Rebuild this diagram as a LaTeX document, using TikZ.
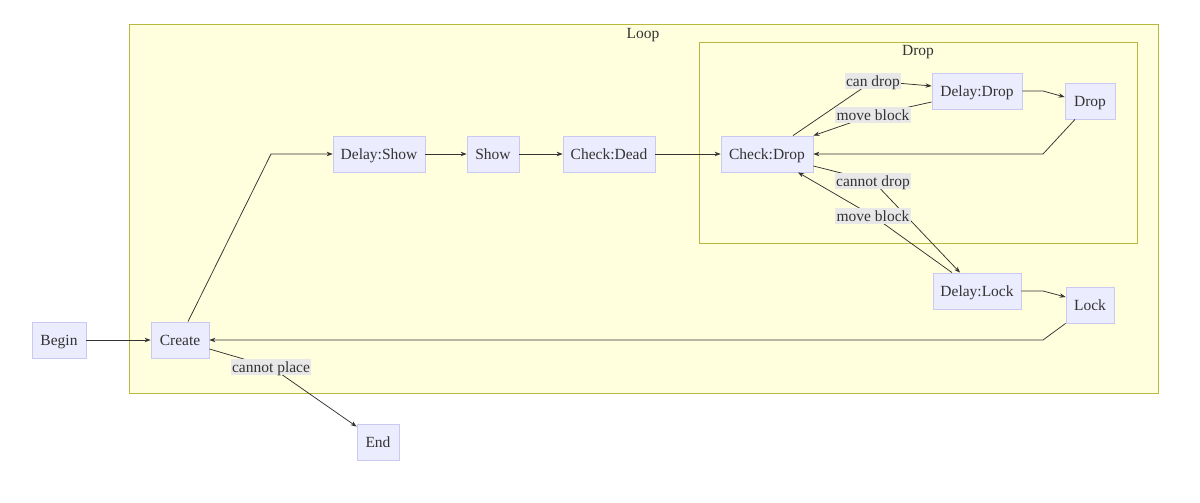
\documentclass[tikz,border=0pt]{standalone}
\usepackage{fontspec}
\setmainfont{Liberation Serif}
\usetikzlibrary{arrows.meta}
\definecolor{nodefill}{HTML}{ECECFF}
\definecolor{nodedraw}{HTML}{C9C9F2}
\definecolor{clusterfill}{HTML}{FFFFDE}
\definecolor{clusterdraw}{HTML}{B8B840}
\definecolor{labelfill}{HTML}{E8E8E8}
\definecolor{edgecol}{HTML}{333333}
\definecolor{textcol}{HTML}{333333}
\tikzset{
  txt/.style={text=textcol, font=\fontsize{15.5}{17}\selectfont, text height=11.5pt, text depth=1pt},
  box/.style={txt, draw=nodedraw, fill=nodefill, line width=0.8pt, minimum height=36pt, inner sep=0pt},
  cluster/.style={draw=clusterdraw, fill=clusterfill, line width=1pt, inner sep=0pt},
  clabel/.style={txt, inner sep=0pt},
  elabel/.style={txt, fill=labelfill, inner xsep=1.5pt, inner ysep=2pt},
  line/.style={draw=edgecol, line width=0.75pt},
  arr/.style={line, -{Stealth[length=6pt,width=4.5pt]}}
}
\begin{document}
\begin{tikzpicture}[x=1pt,y=-1pt]
\useasboundingbox (0,0) rectangle (1200,503);
% clusters
\node[cluster, minimum width=1029pt, minimum height=368pt] (loop) at (643.5,209) {};
\node[clabel] (looplabel) at (643,33) {Loop};
\node[cluster, minimum width=438pt, minimum height=200pt] (dropcl) at (918,143) {};
\node[clabel] (droplabel) at (918,50) {Drop};
% nodes
\node[box, minimum width=54pt] (begin) at (59,340) {Begin};
\node[box, minimum width=58pt] (create) at (180,340) {Create};
\node[box, minimum width=42pt] (end) at (378,442) {End};
\node[box, minimum width=92pt] (dshow) at (379,154) {Delay:Show};
\node[box, minimum width=52pt] (show) at (493,154) {Show};
\node[box, minimum width=92pt] (cdead) at (609,154) {Check:Dead};
\node[box, minimum width=92pt] (cdrop) at (767,154) {Check:Drop};
\node[box, minimum width=90pt] (ddrop) at (977,91) {Delay:Drop};
\node[box, minimum width=50pt] (drop) at (1090,101) {Drop};
\node[box, minimum width=88pt] (dlock) at (977,291) {Delay:Lock};
\node[box, minimum width=48pt] (lock) at (1090,305) {Lock};
% label positions and bends
\coordinate (lcan) at (873,81);
\coordinate (lmove1) at (873,115);
\coordinate (lcannot) at (873,181);
\coordinate (lmove2) at (873,216);
\coordinate (lplace) at (271,367);
\coordinate (b1) at (271,154);
\coordinate (b2) at (1043,91);
\coordinate (b3) at (1043,154);
\coordinate (b4) at (1043,291);
\coordinate (b5) at (1043,340);
% edges
\draw[arr] (begin) -- (create);
\draw[arr] ([xshift=8pt]create.north) -- (b1) -- (dshow.west);
\draw[arr] (dshow) -- (show);
\draw[arr] (show) -- (cdead);
\draw[arr] (cdead) -- (cdrop);
\draw[arr] ([xshift=26pt]cdrop.north) -- (lcan) -- ([yshift=5pt]ddrop.west);
\draw[arr] ([yshift=-11pt]ddrop.west) -- (lmove1) -- (cdrop.north east);
\draw[arr] (ddrop.east) -- (b2) -- ([yshift=4pt]drop.west);
\draw[arr] ([xshift=-15pt]drop.south) -- (b3) -- (cdrop.east);
\draw[arr] ([yshift=-12pt]cdrop.east) -- (lcannot) -- ([xshift=-17pt]dlock.north);
\draw[arr] ([xshift=-25pt]dlock.north) -- (lmove2) -- ([xshift=31pt]cdrop.south);
\draw[arr] (dlock.east) -- (b4) -- ([yshift=8pt]lock.west);
\draw[arr] (lock.south west) -- (b5) -- (create.east);
\draw[arr] ([yshift=-9pt]create.east) -- (lplace) -- ([yshift=-3pt]end.north west);
% edge labels
\node[elabel] (tcan) at (lcan) {can drop};
\node[elabel] (tmove1) at (lmove1) {move block};
\node[elabel] (tcannot) at (lcannot) {cannot drop};
\node[elabel] (tmove2) at (lmove2) {move block};
\node[elabel] (tplace) at (lplace) {cannot place};
\end{tikzpicture}
\end{document}
